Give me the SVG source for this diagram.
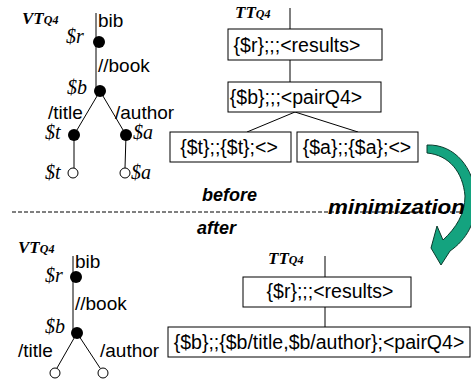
<svg xmlns="http://www.w3.org/2000/svg" width="471" height="383" viewBox="0 0 471 383">
<style>
.lbl{font-family:"Liberation Sans",Arial,sans-serif;font-size:19px;fill:#000}
.var{font-family:"Liberation Serif","Times New Roman",serif;font-style:italic;font-size:20px;fill:#000}
.ttl{font-family:"Liberation Serif","Times New Roman",serif;font-style:italic;font-weight:bold;font-size:17px;fill:#000}
.sub{font-size:12px}
.big{font-family:"Liberation Sans",Arial,sans-serif;font-style:italic;font-weight:bold;font-size:18px;fill:#000}
.box{fill:#fff;stroke:#000;stroke-width:1}
.btxt{font-family:"Liberation Sans",Arial,sans-serif;font-size:19.5px;fill:#000;text-anchor:middle}
.ln{stroke:#000;stroke-width:1;fill:none}
.full{fill:#000}
.open{fill:#fff;stroke:#000;stroke-width:1}
</style>
<g id="connectors">
<line class="ln" x1="96" y1="13" x2="96" y2="91"/>
<line class="ln" x1="100" y1="91" x2="74" y2="135"/>
<line class="ln" x1="100" y1="91" x2="126" y2="135"/>
<line class="ln" x1="74" y1="135" x2="74" y2="168"/>
<line class="ln" x1="126" y1="135" x2="125" y2="168"/>
<line class="ln" x1="73" y1="256" x2="73" y2="333"/>
<line class="ln" x1="77" y1="333" x2="57" y2="368"/>
<line class="ln" x1="77" y1="333" x2="100" y2="368"/>
<line class="ln" x1="290" y1="8" x2="290" y2="29"/>
<line class="ln" x1="290" y1="60" x2="290" y2="82"/>
<line class="ln" x1="295" y1="112" x2="247" y2="132"/>
<line class="ln" x1="295" y1="112" x2="358" y2="132"/>
<line class="ln" x1="325" y1="256" x2="325" y2="277"/>
<line class="ln" x1="325" y1="307" x2="325" y2="327"/>
<line x1="12" y1="212" x2="465" y2="212" stroke="#000" stroke-width="1" stroke-dasharray="4,2"/>
</g>
<g id="vt-before">
<text class="ttl" x="22" y="24">VT<tspan class="sub">Q4</tspan></text>
<text class="lbl" x="98" y="27">bib</text>
<text class="lbl" x="98" y="72">//book</text>
<text class="lbl" x="48" y="119">/title</text>
<text class="lbl" x="115" y="119">/author</text>
<g id="n-r1"><circle class="full" cx="99" cy="42" r="6"/><text class="var" x="66" y="43">$r</text></g>
<g id="n-b1"><circle class="full" cx="100" cy="91" r="6"/><text class="var" x="67" y="94">$b</text></g>
<g id="n-t1"><circle class="full" cx="74" cy="135" r="6"/><text class="var" x="45" y="139">$t</text></g>
<g id="n-a1"><circle class="full" cx="126" cy="135" r="6"/><text class="var" x="133" y="139">$a</text></g>
<g id="n-t2"><circle class="open" cx="73" cy="173" r="5"/><text class="var" x="45" y="179">$t</text></g>
<g id="n-a2"><circle class="open" cx="125" cy="173" r="5"/><text class="var" x="131" y="179">$a</text></g>
</g>
<g id="tt-before">
<text class="ttl" x="235" y="18">TT<tspan class="sub">Q4</tspan></text>
<g id="b1"><rect class="box" x="228" y="29" width="154" height="31"/><text class="btxt" x="297" y="52">{$r};;;&lt;results&gt;</text></g>
<g id="b2"><rect class="box" x="228" y="82" width="153" height="30"/><text class="btxt" x="296" y="104">{$b};;;&lt;pairQ4&gt;</text></g>
<g id="b3"><rect class="box" x="170" y="132" width="121" height="30"/><text class="btxt" x="229" y="154">{$t};;{$t};&lt;&gt;</text></g>
<g id="b4"><rect class="box" x="297" y="132" width="121" height="30"/><text class="btxt" x="357" y="154">{$a};;{$a};&lt;&gt;</text></g>
</g>
<g id="arrow">
<path d="M427,145 C455,144 474,168 476,198 C477,222 466,240 450,251 L441,265 L431,248 L437,226 L443,240 C456,228 465,214 465,196 C463,172 449,155 427,153 Z" fill="#14a37f" stroke="#0b3a2c" stroke-width="1"/>
</g>
<g id="labels">
<text class="big" x="202" y="201">before</text>
<text class="big" x="197" y="234">after</text>
<text class="big" x="328" y="214" textLength="137" lengthAdjust="spacingAndGlyphs" style="font-size:20px">minimization</text>
</g>
<g id="vt-after">
<text class="ttl" x="18" y="253">VT<tspan class="sub">Q4</tspan></text>
<text class="lbl" x="75" y="268">bib</text>
<text class="lbl" x="75" y="310">//book</text>
<text class="lbl" x="18" y="357">/title</text>
<text class="lbl" x="100" y="357">/author</text>
<g id="n-r3"><circle class="full" cx="76" cy="277" r="6"/><text class="var" x="45" y="282">$r</text></g>
<g id="n-b3"><circle class="full" cx="77" cy="333" r="6"/><text class="var" x="45" y="333">$b</text></g>
<g id="n-t3"><circle class="open" cx="55" cy="373" r="5"/></g>
<g id="n-a3"><circle class="open" cx="103" cy="373" r="5"/></g>
</g>
<g id="tt-after">
<text class="ttl" x="268" y="264">TT<tspan class="sub">Q4</tspan></text>
<g id="b5"><rect class="box" x="243" y="277" width="168" height="30"/><text class="btxt" x="330" y="298">{$r};;;&lt;results&gt;</text></g>
<g id="b6"><rect class="box" x="168" y="327" width="302" height="30"/><text class="btxt" x="319" y="349">{$b};;{$b/title,$b/author};&lt;pairQ4&gt;</text></g>
</g>
</svg>
